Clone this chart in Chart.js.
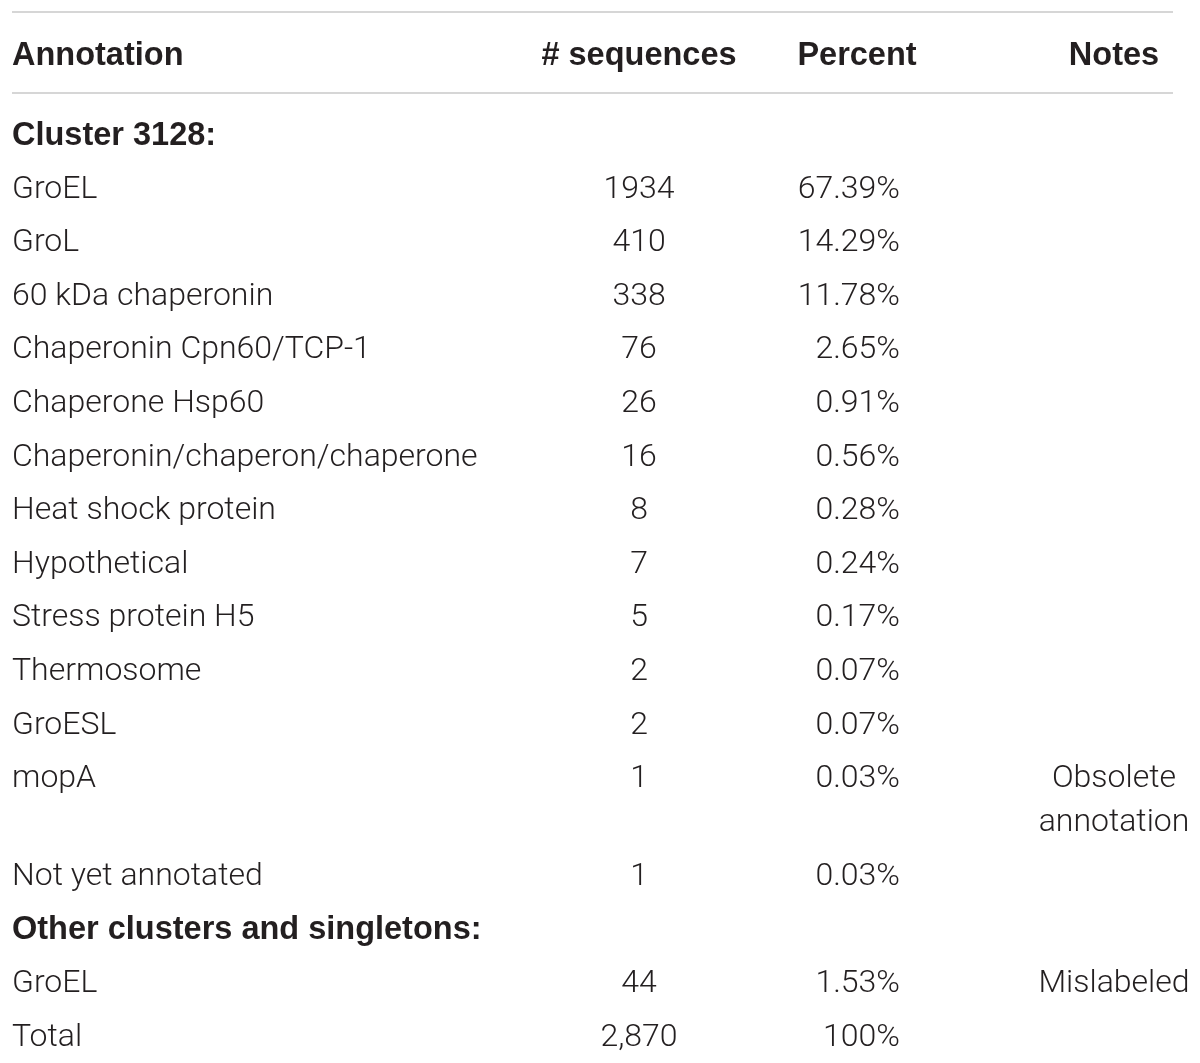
<!DOCTYPE html>
<html><head><meta charset="utf-8">
<script src="https://cdn.jsdelivr.net/npm/chart.js@4"></script>
<style>html,body{margin:0;padding:0;background:#fff}canvas{display:block}</style>
</head><body>
<canvas id="c" width="1200" height="1063"></canvas>
<script>
// ---- data ----
const headers = ['Annotation', '# sequences', 'Percent', 'Notes'];
const sections = ['Cluster 3128:', 'Other clusters and singletons:'];
const clusterAnnotations = ['GroEL', 'GroL', '60 kDa chaperonin', 'Chaperonin Cpn60/TCP-1', 'Chaperone Hsp60',
  'Chaperonin/chaperon/chaperone', 'Heat shock protein', 'Hypothetical', 'Stress protein H5', 'Thermosome',
  'GroESL', 'mopA', 'Not yet annotated'];
const clusterCounts = [1934, 410, 338, 76, 26, 16, 8, 7, 5, 2, 2, 1, 1];
const clusterPercents = [67.39, 14.29, 11.78, 2.65, 0.91, 0.56, 0.28, 0.24, 0.17, 0.07, 0.07, 0.03, 0.03];
const clusterNotes = ['', '', '', '', '', '', '', '', '', '', '', 'Obsolete\nannotation', ''];
const otherAnnotations = ['GroEL'];
const otherCounts = [44];
const otherPercents = [1.53];
const otherNotes = ['Mislabeled'];
const totalLabel = 'Total';
const totalCount = '2,870';
const totalPercent = '100%';

// ---- layout / style ----
const TXT = '#231f20';
const RULE = '#c9c9c9';
const bodyFont = {weight: '300', size: 32, family: 'Roboto', spacing: 0};
const boldFont = {weight: 'bold', size: 32.5, family: '"Liberation Sans"', spacing: 0};
const colX = {ann: 12, cnt: 639, pctHead: 857, pct: 900, note: 1114};
const headerY = 53, firstRowY = 133, rowStep = 53.6, extraLine = 44;
const ruleLeft = 12, ruleRight = 1173, ruleTopY = 12, ruleHeadY = 93;

// build rows
const rows = [];
rows.push({kind: 'section', cells: [sections[0]]});
clusterAnnotations.forEach((a, i) => rows.push({kind: 'body', cells: [a, String(clusterCounts[i]), clusterPercents[i].toFixed(2) + '%', clusterNotes[i]]}));
rows.push({kind: 'section', cells: [sections[1]]});
otherAnnotations.forEach((a, i) => rows.push({kind: 'body', cells: [a, String(otherCounts[i]), otherPercents[i].toFixed(2) + '%', otherNotes[i]]}));
rows.push({kind: 'body', cells: [totalLabel, totalCount, totalPercent, '']});

let y = firstRowY;
rows.forEach(r => {
  r.y = y;
  const lines = Math.max(...r.cells.map(c => (c || '').split('\n').length));
  y += rowStep + (lines - 1) * extraLine;
});

function textSet(label, font, align, items) {
  return {
    label, type: 'scatter', font, align,
    texts: items.map(it => it.t),
    data: items.map(it => ({x: it.x, y: it.y})),
    pointRadius: 0, pointHoverRadius: 0, showLine: false
  };
}
const headerSet = textSet('headers', boldFont, ['left', 'center', 'center', 'center'],
  headers.map((h, i) => ({t: h, x: [colX.ann, colX.cnt, colX.pctHead, colX.note][i], y: headerY})));
const sectionSet = textSet('sections', boldFont, 'left',
  rows.filter(r => r.kind === 'section').map(r => ({t: r.cells[0], x: colX.ann, y: r.y})));
const bodyRows = rows.filter(r => r.kind === 'body');
const annSet = textSet('annotation', bodyFont, 'left', bodyRows.map(r => ({t: r.cells[0], x: colX.ann, y: r.y})));
const cntSet = textSet('count', bodyFont, 'center', bodyRows.map(r => ({t: r.cells[1], x: colX.cnt, y: r.y})));
const pctSet = textSet('percent', bodyFont, 'right', bodyRows.map(r => ({t: r.cells[2], x: colX.pct, y: r.y})));
const noteSet = textSet('notes', bodyFont, 'center', bodyRows.filter(r => r.cells[3]).map(r => ({t: r.cells[3], x: colX.note, y: r.y})));

function ruleSet(yv) {
  return {type: 'line', label: 'rule', data: [{x: ruleLeft, y: yv}, {x: ruleRight, y: yv}],
    borderColor: RULE, borderWidth: 1.6, pointRadius: 0, fill: false, tension: 0};
}

const tablePlugin = {
  id: 'tableText',
  afterDatasetsDraw(chart) {
    const ctx = chart.ctx;
    chart.data.datasets.forEach((ds, di) => {
      if (!ds.texts) return;
      const meta = chart.getDatasetMeta(di);
      const f = ds.font;
      ctx.save();
      ctx.font = `${f.weight} ${f.size}px ${f.family}`;
      ctx.fillStyle = TXT;
      ctx.textBaseline = 'alphabetic';
      const capH = ctx.measureText('H').actualBoundingBoxAscent;
      meta.data.forEach((el, j) => {
        const al = Array.isArray(ds.align) ? ds.align[j] : ds.align;
        ctx.textAlign = al;
        const lines = String(ds.texts[j]).split('\n');
        lines.forEach((ln, k) => {
          ctx.fillText(ln, el.x, el.y + k * extraLine + capH / 2);
        });
      });
      ctx.restore();
    });
  }
};

function draw() {
  new Chart(document.getElementById('c'), {
    type: 'scatter',
    data: {datasets: [ruleSet(ruleTopY), ruleSet(ruleHeadY), headerSet, sectionSet, annSet, cntSet, pctSet, noteSet]},
    options: {
      responsive: false, animation: false, devicePixelRatio: 1,
      layout: {padding: 0},
      events: [],
      plugins: {legend: {display: false}, tooltip: {enabled: false}},
      scales: {
        x: {type: 'linear', display: false, min: 0, max: 1200},
        y: {type: 'linear', display: false, min: 0, max: 1063, reverse: true}
      }
    },
    plugins: [tablePlugin]
  });
}
const fl = document.fonts && document.fonts.load ? Promise.all(['300 32px Roboto', 'bold 32px "Liberation Sans"'].map(f => document.fonts.load(f))) : Promise.resolve();
fl.then(draw, draw);
</script>
</body></html>
